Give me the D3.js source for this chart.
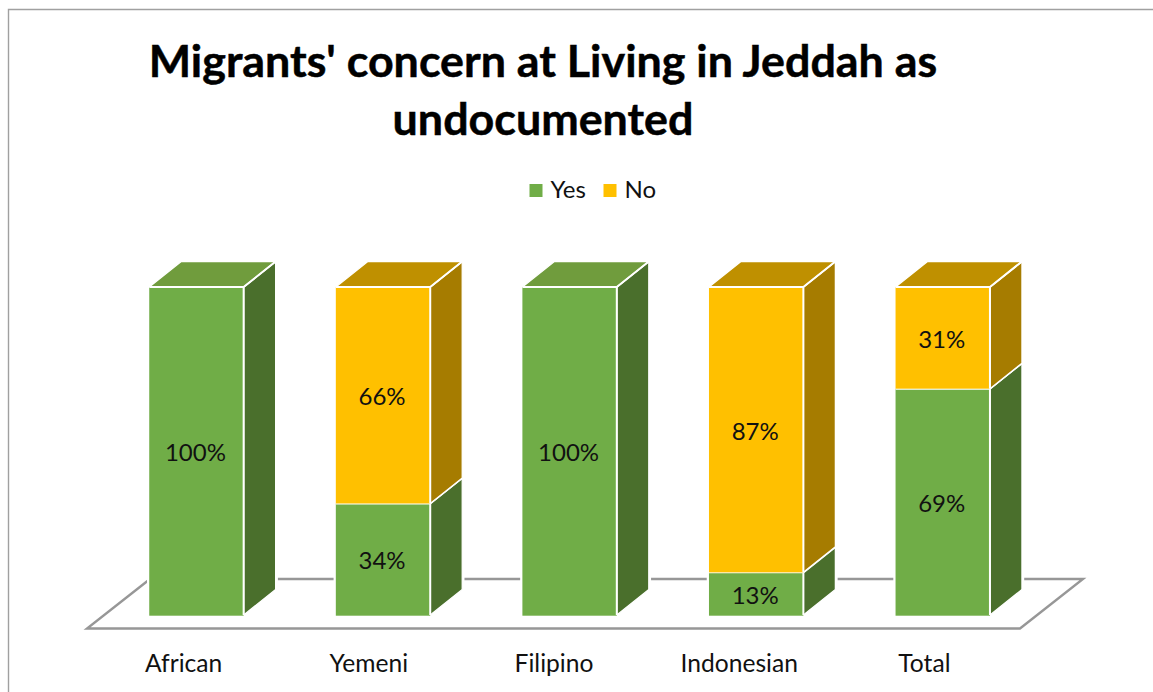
<!DOCTYPE html>
<html>
<head>
<meta charset="utf-8">
<script src="https://cdnjs.cloudflare.com/ajax/libs/d3/7.8.5/d3.min.js"></script>
<style>
  html, body { margin: 0; padding: 0; background: #fff; }
  svg { display: block; font-family: Lato, "Open Sans", sans-serif; }
</style>
</head>
<body>
<svg id="chart" width="1153" height="692"></svg>
<script>
const categories = ["African", "Yemeni", "Filipino", "Indonesian", "Total"];
const yesValues = [100, 34, 100, 13, 69];
const noValues = [0, 66, 0, 87, 31];
const seriesNames = ["Yes", "No"];
const titleLines = ["Migrants' concern at Living in Jeddah as", "undocumented"];

const palette = {
  Yes: { front: "#70ad47", top: "#709c3d", side: "#4a6f2c" },
  No: { front: "#ffc000", top: "#bf9000", side: "#a67c00" }
};

const svg = d3.select("#chart");

// Oblique projection offset of the bars' depth and of the floor
const depth = { dx: 32, dy: -25.5 };
const floorDepth = { dx: 63, dy: -49.5 };

const x = d3.scaleBand().domain(categories).range([102.6, 1036.6]).paddingInner(0.494).paddingOuter(0.25);
const y = d3.scaleLinear().domain([0, 100]).range([615, 287]);
const labelX = d3.scaleBand().domain(categories).range([91, 1017]);

// Chart frame: only the top and left edges are visible
svg.append("path")
  .attr("d", d3.line()([[1153, 9.5], [8.5, 9.5], [8.5, 692]]))
  .attr("fill", "none").attr("stroke", "#a0a0a0").attr("stroke-width", 1.4);

// Title
svg.append("g").selectAll("text").data(titleLines).join("text")
  .attr("x", 543)
  .attr("y", (d, i) => 77 + i * 58)
  .attr("text-anchor", "middle")
  .attr("font-size", 44.8)
  .attr("font-weight", 700)
  .attr("fill", "#000")
  .attr("stroke", "#000")
  .attr("stroke-width", 0.5)
  .text(d => d);

// Legend
const legendX = { Yes: 529.5, No: 603.5 };
const legend = svg.append("g").selectAll("g").data(seriesNames).join("g")
  .attr("transform", d => `translate(${legendX[d]},184)`);
legend.append("rect").attr("width", 13).attr("height", 13).attr("fill", d => palette[d].front);
legend.append("text").attr("x", 21).attr("y", 14).attr("font-size", 24).attr("fill", "#111").text(d => d);

// Floor plane
const floorLeft = 87, floorRight = 1020, floorY = 628.5;
svg.append("path")
  .attr("d", d3.line()([
    [floorLeft, floorY],
    [floorRight, floorY],
    [floorRight + floorDepth.dx, floorY + floorDepth.dy],
    [floorLeft + floorDepth.dx, floorY + floorDepth.dy]
  ]) + "Z")
  .attr("fill", "#fff").attr("stroke", "#979797").attr("stroke-width", 2.4);

// Stacked segments
const rows = categories.map((c, i) => ({ category: c, Yes: yesValues[i], No: noValues[i] }));
const stacked = d3.stack().keys(seriesNames)(rows);

const poly = pts => d3.line()(pts) + "Z";
const segments = stacked.flatMap(s => s.map(d => ({
  key: s.key, category: d.data.category, y0: d[0], y1: d[1], total: d.data.Yes + d.data.No
}))).filter(d => d.y1 > d.y0);

const sidePath = d => {
  const r = x(d.category) + x.bandwidth();
  return poly([[r, y(d.y0)], [r + depth.dx, y(d.y0) + depth.dy], [r + depth.dx, y(d.y1) + depth.dy], [r, y(d.y1)]]);
};
const topPath = d => {
  const l = x(d.category), r = l + x.bandwidth(), t = y(d.y1);
  return poly([[l, t], [r, t], [r + depth.dx, t + depth.dy], [l + depth.dx, t + depth.dy]]);
};
const frontBottom = d => y(d.y0) + (d.y0 === 0 ? 0.7 : 0);

// White margin that separates the bars from the floor lines
const halo = svg.append("g").selectAll("g").data(segments).join("g")
  .attr("fill", "#fff").attr("stroke", "#fff").attr("stroke-width", 4.5);
halo.append("path").attr("d", sidePath);
halo.append("rect")
  .attr("x", d => x(d.category))
  .attr("y", d => y(d.y1))
  .attr("width", x.bandwidth())
  .attr("height", d => y(d.y0) - y(d.y1));

const bars = svg.append("g").selectAll("g").data(segments).join("g")
  .attr("stroke-linejoin", "round");

bars.append("path")
  .attr("class", "side")
  .attr("fill", d => palette[d.key].side)
  .attr("stroke", "#fff").attr("stroke-width", 1.3)
  .attr("d", sidePath);

bars.filter(d => d.y1 === d.total).append("path")
  .attr("class", "top")
  .attr("fill", d => palette[d.key].top)
  .attr("stroke", "#fff").attr("stroke-width", 1.3)
  .attr("d", topPath);

bars.append("rect")
  .attr("class", "front")
  .attr("x", d => x(d.category))
  .attr("y", d => y(d.y1))
  .attr("width", x.bandwidth())
  .attr("height", d => frontBottom(d) - y(d.y1))
  .attr("fill", d => palette[d.key].front);

// Bright edges along the top and right of each front face, and the receding top corner
bars.append("path")
  .attr("fill", "none").attr("stroke", "#fff").attr("stroke-width", 2)
  .attr("d", d => {
    const l = x(d.category), r = l + x.bandwidth();
    const pts = [[l, y(d.y1)], [r, y(d.y1)], [r, y(d.y0)]];
    return d3.line()(pts) + d3.line()([[r, y(d.y1)], [r + depth.dx, y(d.y1) + depth.dy]]);
  });

// Value labels
svg.append("g").selectAll("text").data(segments).join("text")
  .attr("x", d => x(d.category) + x.bandwidth() / 2 - 1)
  .attr("y", d => (y(d.y0) + y(d.y1)) / 2 + 10)
  .attr("text-anchor", "middle")
  .attr("font-size", 24)
  .attr("fill", "#111")
  .text(d => `${d.y1 - d.y0}%`);

// Category axis
const axis = svg.append("g")
  .attr("transform", "translate(0,655)")
  .call(d3.axisBottom(labelX).tickSize(0).tickPadding(0));
axis.select(".domain").remove();
axis.selectAll("text")
  .attr("font-family", "Lato, 'Open Sans', sans-serif")
  .attr("font-size", 24.6)
  .attr("fill", "#111");
</script>
</body>
</html>
